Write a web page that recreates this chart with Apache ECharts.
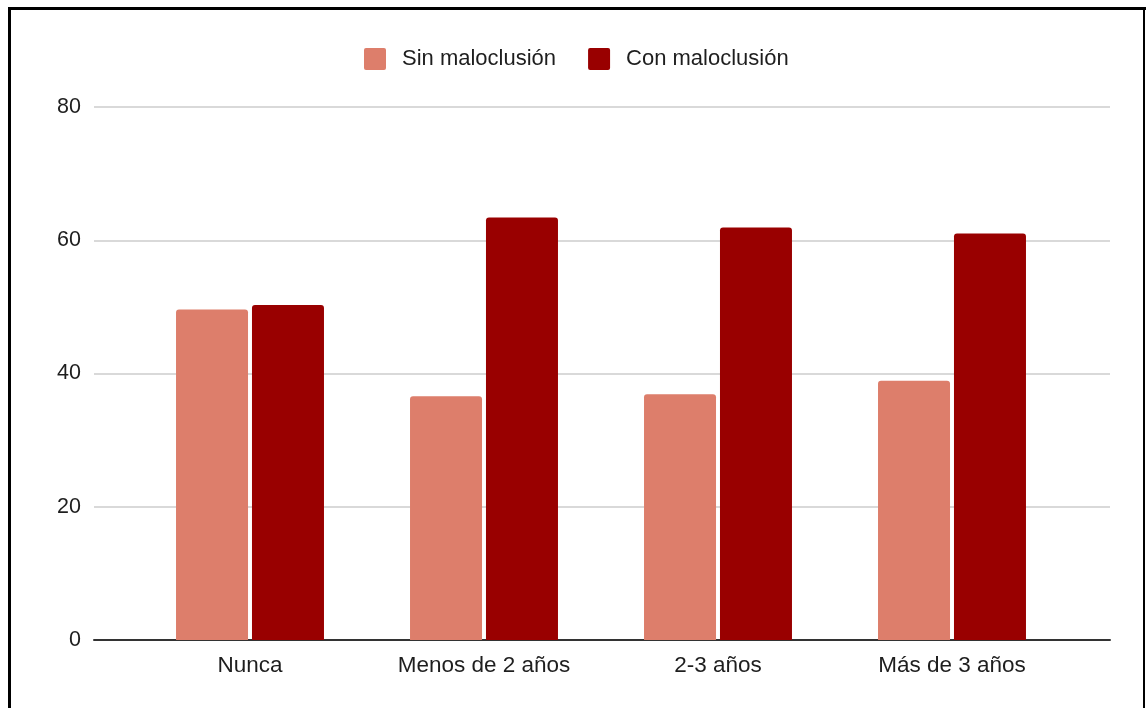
<!DOCTYPE html>
<html>
<head>
<meta charset="utf-8">
<style>
  html, body { margin: 0; padding: 0; background: #ffffff; }
  #chart { width: 1146px; height: 708px; }
</style>
<script src="https://cdn.jsdelivr.net/npm/echarts@6/dist/echarts.min.js"></script>
</head>
<body>
<div id="chart"></div>
<script>
// Years of pacifier use vs. presence of malocclusion (%)
const categories = ['Nunca', 'Menos de 2 años', '2-3 años', 'Más de 3 años'];
const sinMaloclusion = [49.6, 36.6, 36.9, 38.9];
const conMaloclusion = [50.3, 63.4, 61.9, 61.0];
const seriesNames = ['Sin maloclusión', 'Con maloclusión'];
const yTicks = { min: 0, max: 80, interval: 20 };

const FONT = 'Liberation Sans, Arial, sans-serif';
const TEXT = '#1e1e1e';
// square legend swatch with slightly softened corners
const SWATCH = 'path://M2,0 H20 A2,2 0 0 1 22,2 V20 A2,2 0 0 1 20,22 H2 A2,2 0 0 1 0,20 V2 A2,2 0 0 1 2,0 Z';

const chart = echarts.init(document.getElementById('chart'), null, { renderer: 'canvas' });

const barSeries = (name, values, color) => ({
  name: name,
  type: 'bar',
  xAxisIndex: 1,
  yAxisIndex: 1,
  data: values,
  barWidth: 72,
  barGap: '5.5%',
  itemStyle: { color: color, borderRadius: [3, 3, 0, 0] },
  emphasis: { disabled: true }
});

chart.setOption({
  animation: false,
  backgroundColor: '#ffffff',
  textStyle: { fontFamily: FONT },
  legend: {
    data: seriesNames,
    left: 359,
    top: 43,
    itemWidth: 22,
    itemHeight: 22,
    itemGap: 32,
    icon: SWATCH,
    textStyle: { fontSize: 22, color: TEXT, fontFamily: FONT, padding: [0, 0, 0, 11] },
    selectedMode: false
  },
  grid: [
    // full-width frame: gridlines, y labels and the baseline
    { left: 94, right: 36, top: 107, bottom: 68 },
    // bar area
    { left: 133, right: 77, top: 107, bottom: 68 }
  ],
  xAxis: [
    {
      gridIndex: 0, type: 'value', min: 0, max: 1,
      axisLine: { show: true, onZero: false, lineStyle: { color: '#333333', width: 2 } },
      axisTick: { show: false }, axisLabel: { show: false }, splitLine: { show: false }
    },
    {
      gridIndex: 1, type: 'category', data: categories,
      axisLine: { show: false }, axisTick: { show: false },
      axisLabel: { color: TEXT, fontSize: 22.5, fontFamily: FONT, margin: 14 }
    }
  ],
  yAxis: [
    {
      gridIndex: 0, type: 'value', min: yTicks.min, max: yTicks.max, interval: yTicks.interval,
      axisLine: { show: false }, axisTick: { show: false },
      axisLabel: { color: TEXT, fontSize: 21.5, fontFamily: FONT, margin: 13, padding: [6, 0, 0, 0] },
      splitLine: { show: true, lineStyle: { color: '#cccccc', width: 1.5 } }
    },
    {
      gridIndex: 1, type: 'value', min: yTicks.min, max: yTicks.max, interval: yTicks.interval,
      show: false, splitLine: { show: false }
    }
  ],
  series: [
    barSeries(seriesNames[0], sinMaloclusion, '#dd7e6b'),
    barSeries(seriesNames[1], conMaloclusion, '#990000')
  ],
  graphic: [
    // outer frame
    { type: 'line', shape: { x1: 9.5, y1: 7, x2: 9.5, y2: 720 }, style: { stroke: '#000', lineWidth: 3 } },
    { type: 'line', shape: { x1: 8, y1: 8.5, x2: 1146, y2: 8.5 }, style: { stroke: '#000', lineWidth: 3 } },
    { type: 'line', shape: { x1: 1144, y1: 7, x2: 1144, y2: 720 }, style: { stroke: '#000', lineWidth: 2 } }
  ]
});
</script>
</body>
</html>
